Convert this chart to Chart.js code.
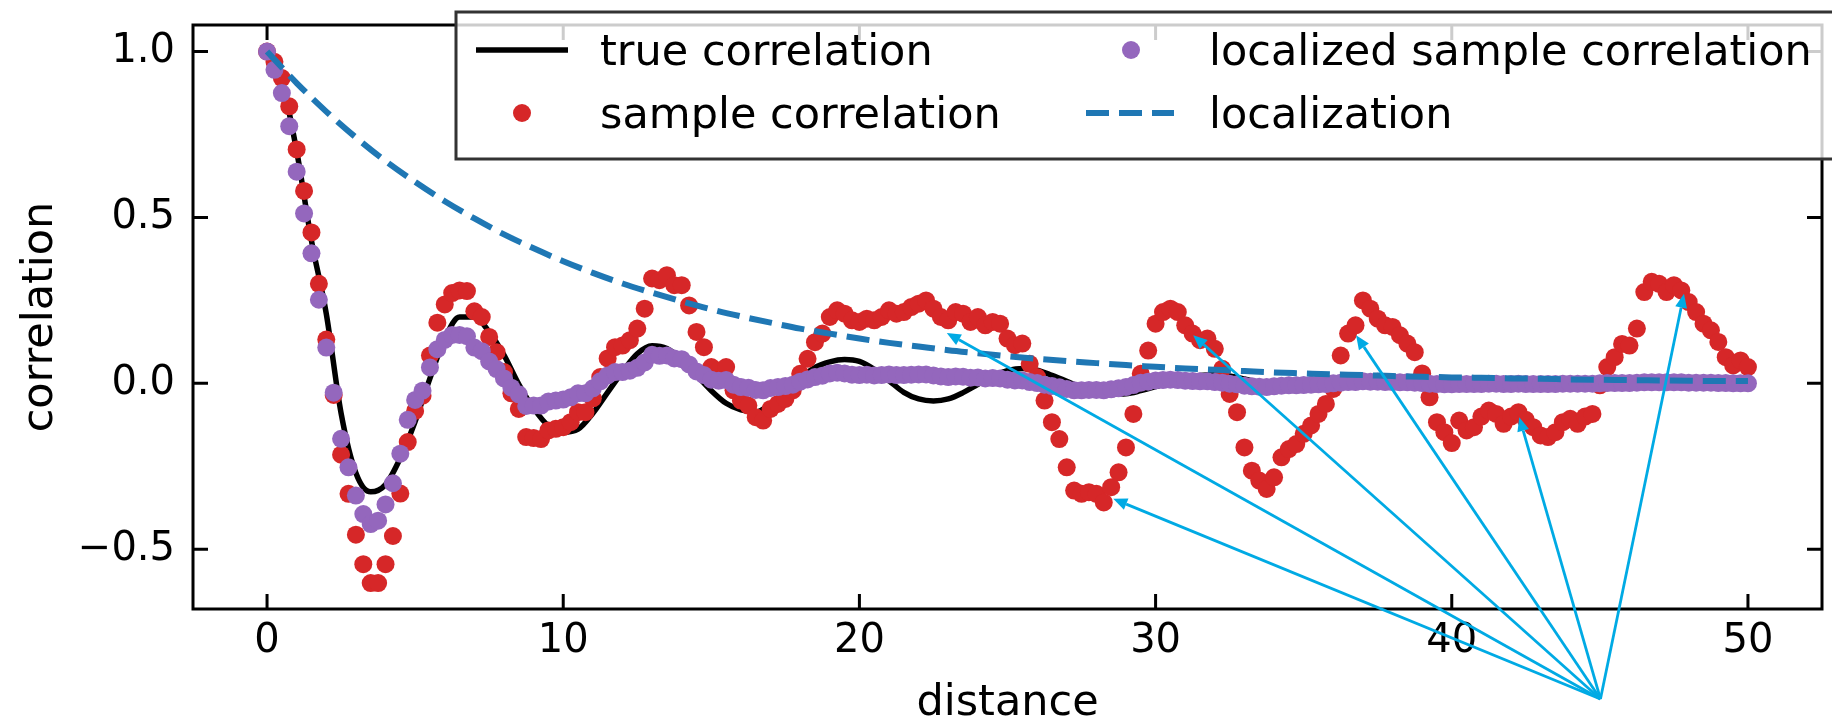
<!DOCTYPE html>
<html>
<head>
<meta charset="utf-8">
<title>correlation vs distance</title>
<script src="https://cdn.jsdelivr.net/npm/chart.js@4.4.1/dist/chart.umd.min.js"></script>
<style>
  html, body { margin: 0; padding: 0; background: #fff; }
</style>
</head>
<body>
<canvas id="myChart" width="1832" height="718"></canvas>
<script>
// sample correlation, one value every 0.25 in distance (0 .. 50)
const sampleCorr = [
  1.00, 0.969, 0.92, 0.835, 0.705, 0.58, 0.455, 0.30, 0.132, -0.035,
  -0.215, -0.333, -0.456, -0.545, -0.602, -0.602, -0.545, -0.46, -0.332, -0.177,
  -0.083, -0.037, 0.084, 0.183, 0.238, 0.272, 0.28, 0.278, 0.217, 0.20,
  0.14, 0.094, 0.034, -0.03, -0.077, -0.162, -0.165, -0.168, -0.142, -0.137,
  -0.132, -0.117, -0.087, -0.087, -0.045, 0.019, 0.075, 0.109, 0.114, 0.13,
  0.165, 0.225, 0.316, 0.311, 0.326, 0.296, 0.296, 0.235, 0.155, 0.109,
  0.049, 0.039, 0.049, -0.021, -0.052, -0.067, -0.102, -0.112, -0.077, -0.062,
  -0.047, -0.021, 0.029, 0.074, 0.124, 0.15, 0.20, 0.22, 0.21, 0.19,
  0.185, 0.195, 0.19, 0.20, 0.22, 0.21, 0.215, 0.23, 0.24, 0.25,
  0.225, 0.20, 0.19, 0.215, 0.21, 0.185, 0.20, 0.175, 0.185, 0.18,
  0.135, 0.115, 0.12, 0.059, 0.019, -0.052, -0.117, -0.168, -0.253, -0.323,
  -0.333, -0.328, -0.333, -0.359, -0.313, -0.268, -0.193, -0.092, 0.029, 0.099,
  0.18, 0.215, 0.225, 0.215, 0.175, 0.15, 0.13, 0.135, 0.104, 0.044,
  -0.032, -0.087, -0.193, -0.263, -0.293, -0.318, -0.283, -0.223, -0.198, -0.183,
  -0.152, -0.127, -0.092, -0.062, -0.017, 0.084, 0.15, 0.175, 0.25, 0.225,
  0.195, 0.175, 0.17, 0.145, 0.12, 0.094, 0.03, -0.042, -0.117, -0.147,
  -0.18, -0.112, -0.142, -0.132, -0.10, -0.082, -0.092, -0.122, -0.10, -0.087,
  -0.11, -0.132, -0.157, -0.162, -0.147, -0.117, -0.107, -0.122, -0.10, -0.092,
  -0.006, 0.049, 0.079, 0.119, 0.114, 0.165, 0.275, 0.306, 0.30, 0.275,
  0.296, 0.28, 0.245, 0.215, 0.18, 0.16, 0.125, 0.079, 0.054, 0.069,
  0.049
];

// localized sample correlation, same distances
const localizedCorr = [
  1.0, 0.945, 0.875, 0.775, 0.638, 0.512, 0.392, 0.252, 0.108, -0.028,
  -0.167, -0.253, -0.338, -0.394, -0.424, -0.414, -0.365, -0.301, -0.212, -0.110,
  -0.050, -0.022, 0.048, 0.103, 0.131, 0.146, 0.146, 0.142, 0.108, 0.097,
  0.066, 0.043, 0.015, -0.013, -0.033, -0.068, -0.067, -0.067, -0.055, -0.052,
  -0.049, -0.042, -0.030, -0.030, -0.015, 0.006, 0.024, 0.034, 0.034, 0.038,
  0.047, 0.063, 0.086, 0.083, 0.084, 0.075, 0.073, 0.057, 0.036, 0.025,
  0.011, 0.008, 0.010, -0.004, -0.011, -0.013, -0.020, -0.021, -0.014, -0.011,
  -0.008, -0.004, 0.005, 0.012, 0.019, 0.023, 0.030, 0.032, 0.030, 0.026,
  0.025, 0.026, 0.024, 0.025, 0.027, 0.025, 0.025, 0.026, 0.027, 0.027,
  0.024, 0.021, 0.019, 0.021, 0.020, 0.017, 0.018, 0.015, 0.016, 0.015,
  0.011, 0.009, 0.009, 0.004, 0.001, -0.004, -0.008, -0.012, -0.017, -0.021,
  -0.021, -0.020, -0.020, -0.021, -0.018, -0.015, -0.011, -0.005, 0.002, 0.005,
  0.009, 0.010, 0.011, 0.010, 0.008, 0.007, 0.006, 0.006, 0.004, 0.002,
  -0.001, -0.003, -0.007, -0.009, -0.010, -0.011, -0.009, -0.007, -0.006, -0.006,
  -0.005, -0.004, -0.003, -0.002, 0.000, 0.002, 0.004, 0.004, 0.006, 0.005,
  0.005, 0.004, 0.004, 0.003, 0.003, 0.002, 0.001, -0.001, -0.002, -0.003,
  -0.003, -0.002, -0.002, -0.002, -0.002, -0.001, -0.001, -0.002, -0.002, -0.001,
  -0.002, -0.002, -0.002, -0.002, -0.002, -0.001, -0.001, -0.001, -0.001, -0.001,
  0.000, 0.001, 0.001, 0.001, 0.001, 0.002, 0.003, 0.003, 0.003, 0.003,
  0.003, 0.003, 0.002, 0.002, 0.002, 0.002, 0.001, 0.001, 0.000, 0.000,
  0.000
];

// true correlation, one value every 0.5 in distance
const trueCorr = [
  1.0, 0.91, 0.70, 0.43, 0.21, -0.09, -0.27, -0.327, -0.305, -0.225,
  -0.115, 0.015, 0.135, 0.20, 0.20, 0.155, 0.085, -0.003, -0.075, -0.128,
  -0.147, -0.138, -0.09, -0.027, 0.035, 0.089, 0.113, 0.105, 0.072, 0.025,
  -0.022, -0.06, -0.08, -0.086, -0.062, -0.025, 0.015, 0.048, 0.065, 0.072,
  0.066, 0.042, 0.008, -0.027, -0.047, -0.053, -0.047, -0.028, -0.003, 0.022,
  0.038, 0.045, 0.040, 0.024, 0.006, -0.013, -0.026, -0.032, -0.031, -0.022,
  -0.01, 0.004, 0.016, 0.024, 0.026, 0.022, 0.013, 0.002, -0.009, -0.016,
  -0.019, -0.018, -0.012, -0.004, 0.004, 0.010, 0.013, 0.012, 0.008, 0.002,
  -0.004, -0.008, -0.009, -0.008, -0.005, -0.001, 0.003, 0.005, 0.006, 0.005,
  0.002, -0.001, -0.003, -0.004, -0.004, -0.002, 0.0, 0.002, 0.003, 0.002,
  0.001
];

// localization taper, one value every 1.0 in distance
const localization = [
  1.0, 0.905, 0.819, 0.741, 0.670, 0.607, 0.549, 0.497, 0.449, 0.407,
  0.368, 0.333, 0.301, 0.273, 0.247, 0.223, 0.202, 0.183, 0.165, 0.150,
  0.135, 0.122, 0.111, 0.100, 0.091, 0.082, 0.074, 0.067, 0.061, 0.055,
  0.050, 0.045, 0.041, 0.037, 0.033, 0.030, 0.027, 0.025, 0.022, 0.020,
  0.018, 0.017, 0.015, 0.014, 0.012, 0.011, 0.010, 0.009, 0.008, 0.007,
  0.007
];

const xTicks = [0, 10, 20, 30, 40, 50];
const yTicks = [-0.5, 0, 0.5, 1.0];
const yTickLabels = ['\u22120.5', '0.0', '0.5', '1.0'];

// annotation arrows: tips in data coords, all from one common start point
const arrowTipX = [28.57, 22.95, 31.27, 36.77, 42.28, 47.84];
const arrowTipY = [-0.348, 0.152, 0.145, 0.145, -0.102, 0.27];
const arrowStart = [45.02, -0.951];

const legendLabels = ['true correlation', 'sample correlation', 'localized sample correlation', 'localization'];

const toPoints = (values, step) => values.map((v, i) => ({ x: i * step, y: v }));

const FONT = "'DejaVu Sans', 'Liberation Sans', sans-serif";
Chart.defaults.font.family = FONT;
Chart.defaults.color = '#000';

const RED = '#d62728';
const PURPLE = '#9467bd';
const BLUE = '#1f77b4';
const ARROW = 'rgb(0, 170, 228)';
const DASH = [23, 10];
const DOT_R = 9;
const LABEL_FONT = '43px ' + FONT;

function drawArrow(ctx, x0, y0, x1, y1) {
  const ang = Math.atan2(y1 - y0, x1 - x0);
  const headLen = 14;
  const headW = 6;
  const bx = x1 - headLen * Math.cos(ang);
  const by = y1 - headLen * Math.sin(ang);
  ctx.beginPath();
  ctx.moveTo(x0, y0);
  ctx.lineTo(bx, by);
  ctx.stroke();
  ctx.beginPath();
  ctx.moveTo(x1, y1);
  ctx.lineTo(bx + headW * Math.sin(ang), by - headW * Math.cos(ang));
  ctx.lineTo(bx - headW * Math.sin(ang), by + headW * Math.cos(ang));
  ctx.closePath();
  ctx.fill();
}

// box, inward ticks on all four sides, arrows
const framePlugin = {
  id: 'frameTicks',
  afterDatasetsDraw(chart) {
    const { ctx, chartArea: { top, bottom, left, right }, scales: { x, y } } = chart;
    ctx.save();
    ctx.strokeStyle = '#000';
    ctx.lineWidth = 3;
    ctx.lineCap = 'butt';
    ctx.beginPath();
    xTicks.forEach((v) => {
      const px = x.getPixelForValue(v);
      ctx.moveTo(px, bottom); ctx.lineTo(px, bottom - 15);
      ctx.moveTo(px, top); ctx.lineTo(px, top + 15);
    });
    yTicks.forEach((v) => {
      const py = y.getPixelForValue(v);
      ctx.moveTo(left, py); ctx.lineTo(left + 15, py);
      ctx.moveTo(right, py); ctx.lineTo(right - 15, py);
    });
    ctx.stroke();
    ctx.strokeRect(left, top, right - left, bottom - top);

    ctx.strokeStyle = ARROW;
    ctx.fillStyle = ARROW;
    ctx.lineWidth = 2.8;
    const sx = x.getPixelForValue(arrowStart[0]);
    const sy = y.getPixelForValue(arrowStart[1]);
    arrowTipX.forEach((tx, i) => {
      drawArrow(ctx, sx, sy, x.getPixelForValue(tx), y.getPixelForValue(arrowTipY[i]));
    });
    ctx.restore();
  },
  afterDraw(chart) {
    const { ctx, chartArea: { top, bottom, left, right } } = chart;
    ctx.save();
    // axis titles
    ctx.fillStyle = '#000';
    ctx.font = LABEL_FONT;
    ctx.textAlign = 'center';
    ctx.textBaseline = 'alphabetic';
    ctx.fillText('distance', (left + right) / 2, 715);
    ctx.translate(52, (top + bottom) / 2);
    ctx.rotate(-Math.PI / 2);
    ctx.fillText('correlation', 0, 0);
    ctx.restore();

    // legend, two columns, runs past the right edge
    ctx.save();
    ctx.fillStyle = 'rgba(255,255,255,0.8)';
    ctx.fillRect(456, 12, 1420, 147);
    ctx.strokeStyle = '#333';
    ctx.lineWidth = 3;
    ctx.strokeRect(456, 12, 1420, 147);

    const row1 = 50, row2 = 113;
    ctx.strokeStyle = '#000';
    ctx.lineWidth = 5.5;
    ctx.beginPath(); ctx.moveTo(476, row1); ctx.lineTo(568, row1); ctx.stroke();
    ctx.fillStyle = RED;
    ctx.beginPath(); ctx.arc(522, row2, DOT_R, 0, Math.PI * 2); ctx.fill();
    ctx.fillStyle = PURPLE;
    ctx.beginPath(); ctx.arc(1131, row1, DOT_R, 0, Math.PI * 2); ctx.fill();
    ctx.strokeStyle = BLUE;
    ctx.lineWidth = 6;
    ctx.setLineDash(DASH);
    ctx.beginPath(); ctx.moveTo(1086, row2); ctx.lineTo(1174, row2); ctx.stroke();
    ctx.setLineDash([]);

    ctx.fillStyle = '#000';
    ctx.font = LABEL_FONT;
    ctx.textAlign = 'left';
    ctx.textBaseline = 'alphabetic';
    ctx.fillText(legendLabels[0], 600, row1 + 15);
    ctx.fillText(legendLabels[1], 600, row2 + 15);
    ctx.fillText(legendLabels[2], 1209, row1 + 15);
    ctx.fillText(legendLabels[3], 1209, row2 + 15);
    ctx.restore();
  },
};

const config = {
  type: 'scatter',
  data: {
    datasets: [
      {
        label: legendLabels[3],
        data: toPoints(localization, 1),
        showLine: true,
        borderColor: BLUE,
        borderWidth: 6,
        borderDash: DASH,
        borderCapStyle: 'butt',
        pointRadius: 0,
        cubicInterpolationMode: 'monotone',
        order: 0,
      },
      {
        label: legendLabels[2],
        data: toPoints(localizedCorr, 0.25),
        showLine: false,
        backgroundColor: PURPLE,
        pointRadius: DOT_R,
        pointBorderWidth: 0,
        order: 1,
      },
      {
        label: legendLabels[1],
        data: toPoints(sampleCorr, 0.25),
        showLine: false,
        backgroundColor: RED,
        pointRadius: DOT_R,
        pointBorderWidth: 0,
        order: 2,
      },
      {
        label: legendLabels[0],
        data: toPoints(trueCorr, 0.5),
        showLine: true,
        borderColor: '#000',
        borderWidth: 5.5,
        pointRadius: 0,
        cubicInterpolationMode: 'monotone',
        order: 3,
      },
    ],
  },
  options: {
    responsive: false,
    animation: false,
    events: [],
    layout: { padding: { top: 25, right: 10, bottom: 0, left: 0 } },
    plugins: {
      legend: { display: false },
      tooltip: { enabled: false },
      title: { display: false },
    },
    scales: {
      x: {
        type: 'linear',
        min: -2.5,
        max: 52.5,
        grid: { display: false, drawTicks: false },
        border: { display: false },
        afterBuildTicks: (scale) => { scale.ticks = xTicks.map((v) => ({ value: v })); },
        afterFit: (scale) => {
          scale.height = 109;
          scale.paddingLeft = 0;
          scale.paddingRight = 0;
        },
        ticks: {
          autoSkip: false,
          maxRotation: 0,
          padding: 9,
          font: { size: 40 },
          color: '#000',
          callback: (v) => String(v),
        },
      },
      y: {
        type: 'linear',
        min: -0.68,
        max: 1.08,
        grid: { display: false, drawTicks: false },
        border: { display: false },
        afterBuildTicks: (scale) => { scale.ticks = yTicks.map((v) => ({ value: v })); },
        afterFit: (scale) => {
          scale.width = 193;
          scale.paddingTop = 0;
          scale.paddingBottom = 0;
        },
        ticks: {
          autoSkip: false,
          padding: 18,
          font: { size: 40 },
          color: '#000',
          callback: (v) => yTickLabels[yTicks.indexOf(v)],
        },
      },
    },
  },
  plugins: [framePlugin],
};

const ctx = document.getElementById('myChart');
const chart = new Chart(ctx, config);
</script>
</body>
</html>
